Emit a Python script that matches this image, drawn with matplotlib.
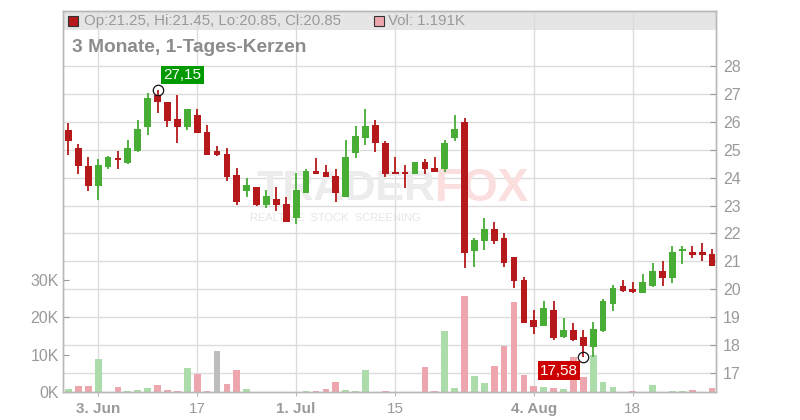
import matplotlib
matplotlib.use("Agg")
import matplotlib.pyplot as plt
import matplotlib.transforms as mtransforms
from matplotlib.patches import Rectangle
import numpy as np

plt.rcParams['font.family'] = ['Liberation Sans', 'DejaVu Sans']

# daily candles, 29 May 2025 .. 28 Aug 2025 (trading day index 0..65)
opens = [25.71, 25.06, 24.42, 23.71, 24.39, 24.70, 24.53, 24.96, 25.82, 26.96,
         26.71, 26.10, 25.82, 26.24, 25.65, 24.96, 24.85, 24.09, 23.53, 23.65,
         23.03, 23.23, 23.05, 22.56, 23.46, 24.24, 24.21, 24.06, 23.32, 24.87,
         25.43, 25.89, 25.25, 24.21, 24.21, 24.14, 24.56, 24.34, 24.32, 25.43,
         25.99, 21.38, 21.74, 22.16, 21.85, 21.16, 20.33, 18.90, 18.69, 19.25,
         18.28, 18.54, 18.28, 17.94, 18.50, 19.48, 20.11, 20.01, 19.87, 20.11,
         20.65, 20.41, 21.38, 21.33, 21.33, 21.25]
highs = [25.97, 25.20, 24.74, 24.67, 24.76, 24.95, 25.35, 26.06, 27.02, 27.15,
         26.72, 26.96, 26.46, 26.46, 25.89, 25.13, 25.05, 24.35, 24.00, 23.65,
         23.56, 23.65, 23.29, 24.18, 24.30, 24.69, 24.45, 24.31, 25.35, 25.85,
         26.46, 26.06, 25.32, 24.75, 24.45, 24.56, 24.67, 24.74, 25.35, 26.24,
         26.13, 21.85, 22.56, 22.41, 22.03, 21.17, 20.43, 19.25, 19.59, 19.59,
         18.96, 18.80, 18.54, 18.84, 19.65, 20.15, 20.33, 20.26, 20.54, 20.95,
         21.01, 21.56, 21.55, 21.55, 21.65, 21.45]
lows = [24.81, 24.14, 23.53, 23.21, 24.32, 24.32, 24.50, 24.93, 25.54, 26.33,
        25.82, 25.23, 25.71, 25.60, 24.81, 24.78, 23.89, 23.02, 23.32, 23.00,
        22.92, 22.81, 22.41, 22.33, 23.45, 24.13, 24.02, 23.14, 23.31, 24.71,
        25.17, 24.93, 24.03, 24.13, 23.64, 24.14, 24.14, 24.21, 24.21, 25.32,
        20.75, 20.81, 21.41, 21.62, 20.81, 20.03, 18.79, 18.39, 18.68, 18.18,
        18.27, 18.14, 17.58, 17.58, 18.47, 19.23, 19.90, 19.85, 19.86, 20.08,
        20.13, 20.23, 20.91, 21.13, 21.02, 20.85]
closes = [25.32, 24.43, 23.71, 24.45, 24.74, 24.64, 25.06, 25.74, 26.85, 26.71,
          26.04, 25.82, 26.46, 25.61, 24.81, 24.81, 24.03, 23.14, 23.73, 23.02,
          23.34, 23.03, 22.42, 23.56, 24.24, 24.14, 24.03, 23.44, 24.73, 25.49,
          25.85, 25.23, 24.14, 24.14, 24.14, 24.56, 24.32, 24.21, 25.24, 25.74,
          21.31, 21.76, 22.16, 21.74, 20.93, 20.30, 18.80, 18.66, 19.32, 18.24,
          18.54, 18.18, 17.96, 18.56, 19.58, 20.04, 19.95, 19.91, 20.26, 20.65,
          20.41, 21.33, 21.43, 21.24, 21.24, 20.85]
prev_close = 25.20

# volume in thousands
volumes = [0.8, 1.6, 1.6, 8.8, 0.0, 1.3, 0.3, 0.5, 1.0, 1.9,
           0.5, 0.3, 6.5, 4.9, 0.3, 11.0, 2.2, 6.0, 0.8, 0.0,
           0.0, 0.0, 0.0, 0.0, 0.2, 0.2, 0.9, 2.7, 0.5, 0.3,
           5.9, 0.0, 0.2, 0.0, 0.0, 0.0, 6.7, 0.3, 16.4, 1.2,
           25.7, 4.3, 2.5, 7.0, 12.3, 24.1, 4.5, 1.6, 1.3, 1.0,
           0.8, 9.4, 4.0, 10.0, 2.7, 1.3, 0.0, 0.3, 0.0, 1.9,
           0.0, 0.3, 0.3, 0.6, 0.0, 1.191]

tick_idx = [3, 13, 23, 33, 47, 57]
tick_labels = ["3. Jun", "17", "1. Jul", "15", "4. Aug", "18"]
bold_ticks = ["3. Jun", "1. Jul", "4. Aug"]
price_ticks = list(range(17, 29))
vol_ticks = [0, 10, 20, 30]

hi_idx, lo_idx = 9, 52

RED = '#b5191b'
GREEN = '#47ad35'
V_RED = '#eea6ae'
V_GREEN = '#acdca9'
V_GRAY = '#bdbdbd'
GRID = '#dcdcdc'
TXT = '#9a9a9a'
SPINE = '#b8b8b8'

fig = plt.figure(figsize=(8, 4.2), dpi=100)
ax = fig.add_axes([63 / 800, 28 / 420, 653 / 800, 381 / 420])
ax2 = ax.twinx()

n = len(opens)
x = np.arange(n)
o = np.array(opens); h = np.array(highs); l = np.array(lows); c = np.array(closes)

ax.set_xlim(-0.55, n - 0.6)
ax.set_ylim(0, 102.1)
ax2.set_ylim(16.32, 29.97)

# header band
ax.add_patch(Rectangle((0, 0.9501), 1, 0.0499, transform=ax.transAxes,
                       facecolor='#e5e5e5', edgecolor='none', zorder=0))

# grid
for t in tick_idx:
    ax.axvline(t, color=GRID, lw=1, zorder=0.5)
trans = mtransforms.blended_transform_factory(ax.transAxes, ax2.transData)
for p in price_ticks:
    ax.plot([0, 1], [p, p], color=GRID, lw=1, transform=trans, zorder=0.5)

# volume
prev = np.concatenate([[prev_close], c[:-1]])
diff = np.round(c - prev, 2)
vcol = [V_GREEN if d > 0 else (V_RED if d < 0 else V_GRAY) for d in diff]
ax.bar(x, volumes, width=0.68, color=vcol, zorder=2)

# candles
ccol = [GREEN if cc >= oo else RED for oo, cc in zip(o, c)]
ax2.vlines(x, l, h, colors=ccol, lw=1.3, zorder=3)
body = np.maximum(np.abs(c - o), 0.05)
ax2.bar(x, body, bottom=np.minimum(o, c), width=0.68, color=ccol, zorder=4)

# high / low markers
ax2.plot([hi_idx, lo_idx], [highs[hi_idx], lows[lo_idx]], 'o', mfc='none',
         mec='#111111', ms=7.5, mew=0.9, zorder=6)
ax2.annotate(f"{highs[hi_idx]:.2f}".replace('.', ','), (hi_idx, highs[hi_idx]),
             xytext=(18, 10.5), textcoords='offset points', ha='center', va='center',
             color='white', fontsize=11, zorder=7,
             bbox=dict(boxstyle='square,pad=0.15', fc='#009a00', ec='none'))
ax2.annotate(f"{lows[lo_idx]:.2f}".replace('.', ','), (lo_idx, lows[lo_idx]),
             xytext=(-17.5, -10), textcoords='offset points', ha='center', va='center',
             color='white', fontsize=11, zorder=7,
             bbox=dict(boxstyle='square,pad=0.15', fc='#cc0000', ec='none'))

# watermark
ax.text(0.5697, 0.533, "TRADER", transform=ax.transAxes, ha='right', va='center',
        fontsize=31, fontweight='bold', color='#ececec', zorder=1)
ax.text(0.5697, 0.533, "FOX", transform=ax.transAxes, ha='left', va='center',
        fontsize=33, fontweight='bold', color='#fbdede', zorder=1)
ax.text(0.2864, 0.457, "REALTIME  STOCK  SCREENING", transform=ax.transAxes,
        ha='left', va='center', fontsize=8, color='#e6e6e6', zorder=1)

# header and title
ax.plot([0.0153], [0.975], 's', transform=ax.transAxes, ms=7, mfc=RED,
        mec='#333333', mew=0.8, zorder=5, clip_on=False)
ax.text(0.0322, 0.975,
        f"Op:{opens[-1]:.2f}, Hi:{highs[-1]:.2f}, Lo:{lows[-1]:.2f}, Cl:{closes[-1]:.2f}",
        transform=ax.transAxes, ha='left', va='center', fontsize=10.8, color=TXT, zorder=5)
ax.plot([0.484], [0.975], 's', transform=ax.transAxes, ms=7, mfc=V_RED,
        mec='#333333', mew=0.8, zorder=5, clip_on=False)
ax.text(0.4977, 0.975, f"Vol: {volumes[-1]:.3f}K", transform=ax.transAxes,
        ha='left', va='center', fontsize=10.8, color=TXT, zorder=5)
ax.text(0.0138, 0.9055, "3 Monate, 1-Tages-Kerzen", transform=ax.transAxes,
        ha='left', va='center', fontsize=13.8, fontweight='bold', color='#8c8c8c', zorder=5)

# axes styling
ax.set_xticks(tick_idx)
ax.set_xticklabels(tick_labels)
for lab in ax.get_xticklabels():
    if lab.get_text() in bold_ticks:
        lab.set_fontweight('bold')
ax.tick_params(axis='x', direction='out', length=3, color=SPINE, labelsize=11,
               labelcolor=TXT, pad=4)
ax.set_yticks(vol_ticks)
ax.set_yticklabels([f"{v}K" for v in vol_ticks])
ax.tick_params(axis='y', direction='in', length=4, color='#999999', labelsize=11.5,
               labelcolor=TXT, pad=3)
ax2.set_yticks(price_ticks)
ax2.tick_params(axis='y', direction='in', length=4, color='#999999', labelsize=11.5,
                labelcolor=TXT, pad=5)
for a in (ax, ax2):
    for s in a.spines.values():
        s.set_color(SPINE)
        s.set_linewidth(1)

fig.savefig("out.png", dpi=100)
